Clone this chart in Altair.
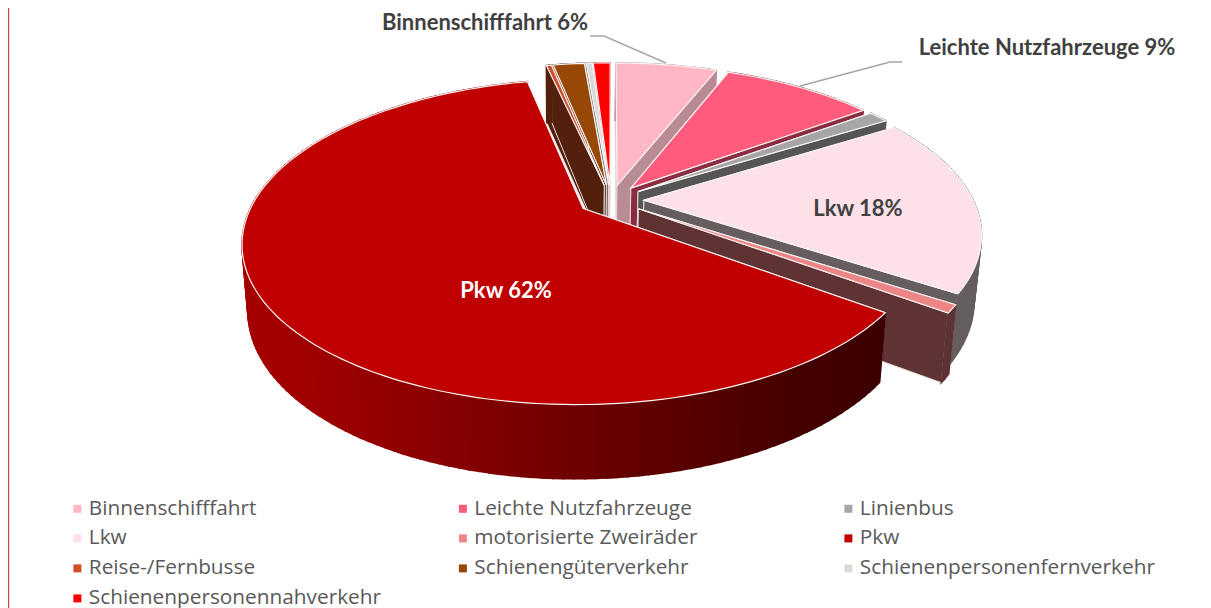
import math
import altair as alt

# --- data ---
categories = ["Binnenschifffahrt", "Leichte Nutzfahrzeuge", "Linienbus", "Lkw", "motorisierte Zweiräder",
              "Pkw", "Reise-/Fernbusse", "Schienengüterverkehr", "Schienenpersonenfernverkehr",
              "Schienenpersonennahverkehr"]
shares = [6.0, 9.0, 1.2, 18.0, 0.8, 61.5, 0.3, 1.85, 0.35, 1.0]
top_colors = ["#ffb7c5", "#ff5b7c", "#a6a6a6", "#fce1e8", "#ec8585", "#c00000", "#d24e26", "#974706", "#d9d9d9", "#ff0000"]
side_colors = ["#b98b95", "#8a2d42", "#555555", "#665e5e", "#5f3333", "#3c0000", "#54200e", "#54200e", "#6e6e6e", "#8a0000"]
paint_order = [0, 9, 8, 7, 6, 1, 2, 3, 4, 5]
pkw_wall_shades = ["#3c0000", "#460000", "#560000", "#680000", "#7a0000", "#8c0000", "#9c0000", "#a60000"]

# --- 3-D look of the pie (view geometry, not data) ---
MARGIN = 8
XC, YC, RX, RY, K, EXPLODE = 611, 200, 329, 152.5, 0.2025, 0.1


def project(u, v):
    w = 1 + K * v
    return XC + RX * u / w - MARGIN, YC - RY * v / w - MARGIN


def drop(p):
    x, y = p
    px, py = x + MARGIN, y + MARGIN
    return px + (565 - px) * 0.018 - MARGIN, py + 54 + 0.05 * py - MARGIN


def feature(coords, fill, stroke, width=1.0, name=None):
    pts = [list(c) for c in coords]
    pts.append(pts[0])
    return {"type": "Feature", "geometry": {"type": "Polygon", "coordinates": [pts]},
            "properties": {"fill": fill, "strk": stroke, "sw": width, "kategorie": name}}


spans = []
acc = 0.0
for s in shares:
    spans.append((acc * 3.6, (acc + s) * 3.6))
    acc += s


def slice_pts(i, step=1.5):
    a0, a1 = spans[i]
    b = math.radians((a0 + a1) / 2)
    ou, ov = EXPLODE * math.sin(b), EXPLODE * math.cos(b)
    n = max(2, int((a1 - a0) / step))
    apex = project(ou, ov)
    rim = []
    for j in range(n + 1):
        a = math.radians(a0 + (a1 - a0) * j / n)
        rim.append(project(ou + math.sin(a), ov + math.cos(a)))
    return apex, rim


def mix(c0, c1, t):
    a = [int(c0[i:i + 2], 16) for i in (1, 3, 5)]
    b = [int(c1[i:i + 2], 16) for i in (1, 3, 5)]
    return "#" + "".join(f"{round(x + (y - x) * t):02x}" for x, y in zip(a, b))


def pkw_shade(x):
    # dark on the right, lighter on the left of the rim
    t = min(max((885 - (x + MARGIN)) / (885 - 242), 0), 1) * (len(pkw_wall_shades) - 1)
    i = min(int(t), len(pkw_wall_shades) - 2)
    return mix(pkw_wall_shades[i], pkw_wall_shades[i + 1], t - i)


walls = []
tops = []
for i in paint_order:
    apex, rim = slice_pts(i)
    side = side_colors[i]
    edge = "#e9dcdc"
    walls.append(feature([apex, rim[0], drop(rim[0]), drop(apex)], side, edge, 1.0))
    walls.append(feature([apex, rim[-1], drop(rim[-1]), drop(apex)], side, edge, 1.0))
    for p, q in zip(rim[:-1], rim[1:]):
        c = pkw_shade((p[0] + q[0]) / 2) if categories[i] == "Pkw" else side
        walls.append(feature([p, q, drop(q), drop(p)], c, c, 1.6))
    tops.append(feature([apex] + rim, top_colors[i], "#fbf4f4", name=categories[i]))

proj = alt.Projection(type="identity", scale=1, translate=[0, 0])

wall_layer = alt.Chart(alt.Data(values=walls)).mark_geoshape().encode(
    color=alt.Color("properties.fill:N", scale=None),
    stroke=alt.Stroke("properties.strk:N", scale=None),
    strokeWidth=alt.StrokeWidth("properties.sw:Q", scale=None),
).project(**proj.to_dict())

top_layer = alt.Chart(alt.Data(values=tops)).mark_geoshape(stroke="#fbf4f4", strokeWidth=1.2).encode(
    color=alt.Color(
        "properties.kategorie:N",
        scale=alt.Scale(domain=categories, range=top_colors),
        legend=alt.Legend(
            title=None, orient="none", legendX=59, legendY=490, columns=3, direction="horizontal",
            symbolType="square", symbolSize=64, symbolStrokeWidth=0, labelOffset=1,
            labelFont="Open Sans", labelFontSize=20.8, labelColor="#595959", labelLimit=400,
            gridAlign="all", columnPadding=68.5, rowPadding=8, padding=0, symbolOpacity=1,
        ),
    ),
).project(**proj.to_dict())


def line_feature(coords, color):
    return {"type": "Feature", "geometry": {"type": "LineString", "coordinates": [list(c) for c in coords]},
            "properties": {"strk": color}}


leaders = [
    line_feature([(590 - MARGIN, 36 - MARGIN), (604 - MARGIN, 36 - MARGIN), (666 - MARGIN, 63 - MARGIN)], "#a6a6a6"),
    line_feature([(902 - MARGIN, 62 - MARGIN), (890 - MARGIN, 62 - MARGIN), (800 - MARGIN, 86 - MARGIN)], "#a6a6a6"),
    line_feature([(0.5, 0), (0.5, 600)], "#c8424e"),
]
leader_layer = alt.Chart(alt.Data(values=leaders)).mark_geoshape(filled=False, strokeWidth=1.4).encode(
    stroke=alt.Stroke("properties.strk:N", scale=None),
).project(**proj.to_dict())


def label(text, x, y, color, align="center"):
    return alt.Chart(alt.Data(values=[{"t": text}])).mark_text(
        font="Lato", fontWeight="bold", fontSize=22, color=color, align=align, baseline="middle"
    ).encode(text="t:N", x=alt.value(x - MARGIN), y=alt.value(y - MARGIN))


chart = alt.layer(
    wall_layer, top_layer, leader_layer,
    label("Binnenschifffahrt 6%", 485, 23, "#404040"),
    label("Leichte Nutzfahrzeuge 9%", 1047, 48, "#404040"),
    label("Lkw 18%", 858, 209, "#404040"),
    label("Pkw 62%", 506, 291, "#ffffff"),
).properties(width=1195, height=600, padding=0, autosize=alt.AutoSizeParams(type="none")).configure_view(stroke=None)

chart.save("out.html", embed_options={"renderer": "svg", "actions": False})
